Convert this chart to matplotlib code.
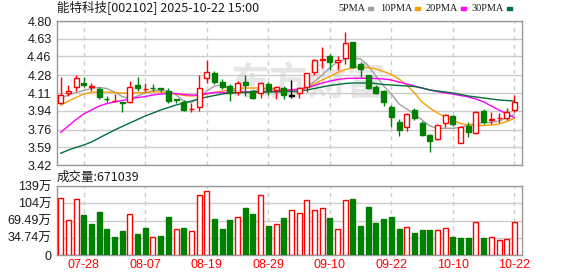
import matplotlib
matplotlib.use('Agg')
import matplotlib.pyplot as plt
from matplotlib.patches import Rectangle

plt.rcParams['font.family'] = ['Liberation Sans', 'Noto Sans CJK SC']

title = '能特科技[002102] 2025-10-22 15:00'
vol_title = '成交量:671039'

dates = ['07-23', '07-24', '07-25', '07-28', '07-29', '07-30', '07-31', '08-01', '08-04', '08-05',
         '08-06', '08-07', '08-08', '08-11', '08-12', '08-13', '08-14', '08-15', '08-18', '08-19',
         '08-20', '08-21', '08-22', '08-25', '08-26', '08-27', '08-28', '08-29', '09-01', '09-02',
         '09-03', '09-04', '09-05', '09-08', '09-09', '09-10', '09-11', '09-12', '09-15', '09-16',
         '09-17', '09-18', '09-19', '09-22', '09-23', '09-24', '09-25', '09-26', '09-29', '09-30',
         '10-09', '10-10', '10-13', '10-14', '10-15', '10-16', '10-17', '10-20', '10-21', '10-22']
label_dates = ['07-28', '08-07', '08-19', '08-29', '09-10', '09-22', '10-10', '10-22']

opens = [4.011, 4.107, 4.170, 4.209, 4.165, 4.145, 4.055, 4.033, 4.020, 4.021,
         4.187, 4.148, 4.160, 4.157, 4.129, 4.050, 4.027, 3.952, 3.976, 4.257,
         4.299, 4.213, 4.177, 4.122, 4.213, 4.129, 4.107, 4.193, 4.139, 4.155,
         4.084, 4.107, 4.170, 4.308, 4.428, 4.467, 4.404, 4.443, 4.596, 4.385,
         4.283, 4.170, 4.129, 3.979, 3.835, 3.787, 3.947, 3.825, 3.707, 3.669,
         3.820, 3.890, 3.634, 3.794, 3.724, 3.937, 3.855, 3.870, 3.867, 3.947]
highs = [4.260, 4.187, 4.283, 4.260, 4.203, 4.165, 4.081, 4.100, 4.020, 4.228,
         4.260, 4.203, 4.196, 4.160, 4.155, 4.055, 4.043, 4.011, 4.283, 4.426,
         4.321, 4.241, 4.193, 4.225, 4.283, 4.139, 4.213, 4.213, 4.177, 4.177,
         4.235, 4.170, 4.300, 4.436, 4.554, 4.481, 4.467, 4.692, 4.600, 4.404,
         4.285, 4.187, 4.139, 3.995, 3.861, 3.915, 3.969, 3.842, 3.714, 3.810,
         3.906, 3.900, 3.797, 3.829, 3.940, 3.954, 3.925, 3.915, 3.963, 4.091]
lows = [4.000, 4.084, 4.132, 4.165, 4.132, 4.050, 4.027, 4.033, 3.931, 4.015,
        4.132, 4.117, 4.127, 4.117, 4.011, 4.010, 3.938, 3.925, 3.940, 4.203,
        4.193, 4.148, 4.033, 4.091, 4.084, 4.053, 4.065, 4.091, 4.053, 4.053,
        4.065, 4.065, 4.122, 4.283, 4.347, 4.330, 4.330, 4.385, 4.352, 4.266,
        4.145, 4.098, 3.985, 3.787, 3.700, 3.749, 3.851, 3.700, 3.547, 3.660,
        3.787, 3.797, 3.628, 3.690, 3.714, 3.813, 3.810, 3.820, 3.851, 3.925]
closes = [4.091, 4.129, 4.251, 4.187, 4.177, 4.075, 4.050, 4.037, 4.015, 4.165,
          4.155, 4.152, 4.155, 4.150, 4.036, 4.045, 3.947, 3.956, 4.155, 4.308,
          4.218, 4.170, 4.107, 4.209, 4.187, 4.065, 4.203, 4.139, 4.170, 4.091,
          4.084, 4.155, 4.299, 4.426, 4.433, 4.404, 4.426, 4.586, 4.362, 4.337,
          4.155, 4.113, 4.027, 3.883, 3.755, 3.906, 3.867, 3.707, 3.650, 3.803,
          3.899, 3.810, 3.787, 3.733, 3.931, 3.835, 3.862, 3.875, 3.925, 4.027]

ma5 = [4.062, 4.091, 4.115, 4.134, 4.153, 4.163, 4.153, 4.120, 4.076, 4.057,
       4.081, 4.110, 4.134, 4.139, 4.129, 4.091, 4.033, 4.019, 4.062, 4.129,
       4.177, 4.187, 4.153, 4.120, 4.115, 4.129, 4.144, 4.153, 4.153, 4.139,
       4.124, 4.120, 4.168, 4.220, 4.282, 4.354, 4.407, 4.436, 4.445, 4.436,
       4.369, 4.273, 4.177, 4.100, 4.005, 3.957, 3.909, 3.851, 3.794, 3.772,
       3.772, 3.772, 3.779, 3.803, 3.818, 3.827, 3.827, 3.842, 3.870, 3.904]
ma10 = [3.995, 4.033, 4.067, 4.100, 4.117, 4.120, 4.120, 4.115, 4.110, 4.110,
        4.113, 4.115, 4.120, 4.120, 4.113, 4.100, 4.086, 4.081, 4.086, 4.100,
        4.115, 4.129, 4.144, 4.153, 4.158, 4.158, 4.158, 4.153, 4.148, 4.144,
        4.139, 4.144, 4.163, 4.196, 4.235, 4.268, 4.306, 4.335, 4.352, 4.356,
        4.354, 4.340, 4.316, 4.287, 4.244, 4.187, 4.110, 4.024, 3.966, 3.918,
        3.880, 3.846, 3.818, 3.803, 3.799, 3.799, 3.803, 3.813, 3.837, 3.866]
ma20 = [3.733, 3.794, 3.856, 3.909, 3.947, 3.985, 4.009, 4.024, 4.038, 4.053,
        4.067, 4.076, 4.091, 4.100, 4.105, 4.105, 4.096, 4.091, 4.091, 4.105,
        4.115, 4.115, 4.115, 4.115, 4.120, 4.120, 4.122, 4.124, 4.129, 4.134,
        4.139, 4.148, 4.163, 4.182, 4.206, 4.225, 4.239, 4.249, 4.251, 4.251,
        4.251, 4.249, 4.244, 4.235, 4.215, 4.196, 4.177, 4.158, 4.139, 4.124,
        4.110, 4.100, 4.086, 4.072, 4.053, 4.024, 3.985, 3.947, 3.909, 3.875]
ma30 = [3.532, 3.564, 3.588, 3.612, 3.640, 3.679, 3.717, 3.755, 3.789, 3.823,
        3.856, 3.890, 3.918, 3.947, 3.971, 3.995, 4.014, 4.033, 4.053, 4.072,
        4.086, 4.100, 4.110, 4.113, 4.115, 4.117, 4.120, 4.120, 4.120, 4.124,
        4.124, 4.129, 4.139, 4.153, 4.168, 4.182, 4.191, 4.201, 4.206, 4.206,
        4.206, 4.201, 4.191, 4.187, 4.182, 4.177, 4.172, 4.158, 4.139, 4.129,
        4.120, 4.110, 4.096, 4.081, 4.072, 4.062, 4.053, 4.043, 4.038, 4.033]

# volume in 万 shares, and whether the bar is drawn red (up vs previous close)
volumes = [114.2, 69.8, 112.1, 80.6, 62.4, 86.6, 52.4, 36.3, 48.3, 82.6,
           42.3, 54.4, 35.6, 38.3, 76.5, 51.7, 54.4, 47.7, 120.9, 128.9,
           72.5, 52.4, 70.5, 75.9, 94.7, 83.2, 120.9, 58.4, 62.4, 74.5,
           90.0, 84.0, 110.2, 90.0, 94.0, 74.5, 51.7, 110.2, 112.8, 58.4,
           96.7, 64.5, 72.5, 76.5, 52.4, 55.7, 44.3, 50.4, 50.4, 50.4,
           53.7, 36.3, 34.2, 34.2, 65.8, 34.2, 36.3, 29.5, 31.6, 67.1]
vol_up = [1, 1, 1, 0, 0, 0, 0, 0, 0, 1,
          0, 0, 1, 0, 0, 1, 0, 1, 1, 1,
          0, 0, 0, 1, 0, 0, 1, 0, 1, 0,
          1, 1, 1, 1, 1, 0, 1, 1, 0, 0,
          0, 0, 0, 0, 0, 1, 0, 0, 0, 1,
          1, 0, 0, 0, 1, 0, 1, 1, 1, 1]

price_ticks = [3.42, 3.59, 3.76, 3.94, 4.11, 4.28, 4.46, 4.63, 4.80]
price_labels = ['3.42', '3.59', '3.76', '3.94', '4.11', '4.28', '4.46', '4.63', '4.80']
vol_ticks = [0, 34.745, 69.49, 104.235, 138.98]
vol_labels = ['0', '34.74万', '69.49万', '104万', '139万']

ma_names = ['5PMA', '10PMA', '20PMA', '30PMA']
ma_colors = ['#a0a0a0', '#f5a000', '#ff00ff', '#006f3c']

RED = '#ff0000'
GREEN = '#008000'
GRID = '#cccccc'
FRAME = '#999999'
W, H = 578, 276

fig = plt.figure(figsize=(W / 100, H / 100), dpi=100)
ax = fig.add_axes([57 / W, 1 - 165 / H, 465 / W, 144 / H])
axv = fig.add_axes([57 / W, 1 - 255 / H, 465 / W, 69 / H])

x = list(range(len(dates)))
label_idx = [dates.index(d) for d in label_dates]

for a in (ax, axv):
    a.set_xlim(-0.48, len(dates) - 0.01)
    for s in a.spines.values():
        s.set_color(FRAME)
        s.set_linewidth(1)
    for i in label_idx:
        a.axvline(i, color=GRID, lw=1, ls=(0, (3, 3)), zorder=0)
    a.tick_params(length=0, labelsize=9, colors='#1a1a1a', pad=4)

# watermark
ax.text(0.54, 0.56, '东方财富', transform=ax.transAxes, ha='center', va='center',
        fontsize=28, fontweight='bold', color='#e6e6e6', family=['Noto Sans CJK SC'], zorder=0)

# price panel
ax.set_ylim(3.42, 4.80)
ax.set_yticks(price_ticks)
ax.set_yticklabels(price_labels)
ax.set_xticks([])
for t in price_ticks:
    ax.axhline(t, color=GRID, lw=1, zorder=0)

for name, vals, c in zip(ma_names, [ma5, ma10, ma20, ma30], ma_colors):
    ax.plot(x, vals, color=c, lw=1, zorder=2)

bw = 0.65
for i in x:
    o, h, l, c = opens[i], highs[i], lows[i], closes[i]
    if c > o:
        col, face = RED, 'white'
    elif c < o:
        col, face = GREEN, GREEN
    else:
        col, face = 'black', 'black'
    ax.vlines(i, l, h, color=col, lw=1, zorder=3)
    ax.bar(i, max(abs(c - o), 0.004), bottom=min(o, c), width=bw,
           facecolor=face, edgecolor=col, linewidth=1, zorder=4)

# title and legend
fig.text(57 / W, 1 - 8 / H, title, fontsize=9, va='center', ha='left',
         family=['Noto Sans CJK SC'], color='#1a1a1a')
fig.canvas.draw()
renderer = fig.canvas.get_renderer()
leg_x = [338, 380, 426, 472]
for name, c, lx in zip(ma_names, ma_colors, leg_x):
    t = fig.text(lx / W, 1 - 8.5 / H, name, fontsize=7.4, va='center', ha='left',
                 family=['Liberation Serif'], color='#1a1a1a')
    right = t.get_window_extent(renderer).x1
    fig.patches.append(Rectangle(((right + 3) / W, 1 - 10 / H), 5 / W, 3 / H,
                                 transform=fig.transFigure, color=c))

# volume panel
axv.set_ylim(0, 138.98)
axv.set_yticks(vol_ticks)
axv.set_yticklabels(vol_labels)
axv.set_xticks(label_idx)
axv.set_xticklabels(label_dates, color=RED)
axv.tick_params(axis='x', pad=3, labelsize=9)
for t in vol_ticks:
    axv.axhline(t, color=GRID, lw=1, zorder=0)
for i in x:
    if vol_up[i]:
        axv.bar(i, volumes[i], width=bw, facecolor='white', edgecolor=RED, linewidth=1, zorder=3)
    else:
        axv.bar(i, volumes[i], width=bw, facecolor=GREEN, edgecolor=GREEN, linewidth=1, zorder=3)

fig.text(57 / W, 1 - 177 / H, vol_title, fontsize=9, va='center', ha='left',
         family=['Noto Sans CJK SC'], color='#1a1a1a')

fig.savefig('out.png', dpi=100)
